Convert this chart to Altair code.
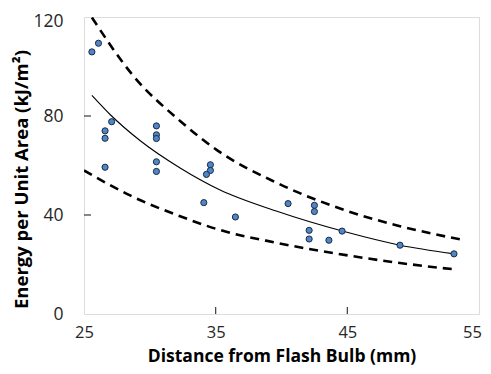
import altair as alt
import pandas as pd

# measured points
dist = [25.6, 26.1, 27.1, 26.6, 26.6, 26.6, 30.5, 30.5, 30.5, 30.5, 30.5,
        34.6, 34.6, 34.3, 34.1, 36.5, 40.5, 42.5, 42.5, 42.1, 42.1, 43.6,
        44.6, 49.0, 53.1]
energy = [105.9, 109.4, 77.7, 74.0, 71.0, 59.3, 76.0, 72.4, 70.9, 61.5, 57.6,
          60.3, 58.0, 56.4, 45.0, 39.2, 44.6, 43.9, 41.4, 33.8, 30.3, 29.8,
          33.5, 27.8, 24.3]

# fitted curve (solid)
fit_x = [25.6, 27.0, 29.25, 32.3, 35.3, 39.6, 44.9, 49.0, 53.0]
fit_y = [88.3, 80.5, 70.1, 59.0, 50.2, 41.6, 33.1, 27.8, 24.4]

# upper bound (dashed)
up_x = [25.6, 28.7, 32.3, 35.1, 39.6, 44.9, 49.0, 53.6]
up_y = [119.8, 96.5, 78.0, 66.2, 53.1, 41.8, 35.5, 30.1]

# lower bound (dashed)
lo_x = [25.0, 28.5, 32.3, 35.1, 39.6, 44.9, 49.0, 53.2]
lo_y = [58.0, 47.9, 39.5, 34.3, 28.8, 23.8, 20.6, 18.0]

x_tick_vals = [35, 45]
y_tick_vals = [40, 80]
x_labels = [25, 35, 45, 55]
y_labels = [0, 40, 80, 120]

W, H = 395, 297
FONT = "Open Sans"

xs = alt.Scale(domain=[25, 55], nice=False, zero=False)
ys = alt.Scale(domain=[0, 120], nice=False)

pts = pd.DataFrame({"x": dist, "y": energy})
fit = pd.DataFrame({"x": fit_x, "y": fit_y})
up = pd.DataFrame({"x": up_x, "y": up_y})
lo = pd.DataFrame({"x": lo_x, "y": lo_y})

xaxis = alt.Axis(values=x_labels, title="Distance from Flash Bulb (mm)",
                 ticks=False, tickSize=0, domain=False, grid=False,
                 labelFontSize=16.5, labelFont=FONT, labelColor="#262626",
                 labelPadding=10, labelBaseline="top", labelFlush=False,
                 labelOffset=alt.condition("datum.value == 55", alt.value(-7), alt.value(0)),
                 titleFont=FONT, titleFontSize=17.5, titleFontWeight="bold",
                 titleColor="#000000", titleY=33, titleBaseline="top")
yaxis = alt.Axis(values=y_labels, title="Energy per Unit Area (kJ/m²)",
                 ticks=False, tickSize=0, domain=False, grid=False,
                 labelFontSize=17.5, labelFont=FONT, labelColor="#262626",
                 labelPadding=21, labelFlush=False,
                 labelOffset=alt.condition("datum.value == 120", alt.value(4), alt.value(0)),
                 titleFont=FONT, titleFontSize=18.5, titleFontWeight="bold",
                 titleColor="#000000", titleX=-63, titleY=162,
                 titleAngle=270, titleAlign="center", titleBaseline="middle")

X = lambda f: alt.X(f, scale=xs, axis=xaxis)
Y = lambda f: alt.Y(f, scale=ys, axis=yaxis)

points = alt.Chart(pts).mark_point(
    filled=True, fill="#4f86c6", stroke="#1a2a44", strokeWidth=1, size=38,
    opacity=1, shape="circle"
).encode(x=X("x:Q"), y=Y("y:Q"))

fit_line = alt.Chart(fit).mark_line(
    color="#000000", strokeWidth=1.1, interpolate="monotone", clip=True
).encode(x=X("x:Q"), y=Y("y:Q"))

up_line = alt.Chart(up).mark_line(
    color="#000000", strokeWidth=2.6, strokeDash=[9, 6], interpolate="monotone", clip=True
).encode(x=X("x:Q"), y=Y("y:Q"))

lo_line = alt.Chart(lo).mark_line(
    color="#000000", strokeWidth=2.6, strokeDash=[9, 6], interpolate="monotone", clip=True
).encode(x=X("x:Q"), y=Y("y:Q"))

xt = alt.Chart(pd.DataFrame({"v": x_tick_vals})).mark_rule(
    color="#3a3a3a", strokeWidth=1.2
).encode(x=X("v:Q"), y=alt.value(H), y2=alt.value(H - 7))

yt = alt.Chart(pd.DataFrame({"v": y_tick_vals})).mark_rule(
    color="#3a3a3a", strokeWidth=1.2
).encode(y=Y("v:Q"), x=alt.value(0), x2=alt.value(7))

chart = alt.layer(up_line, lo_line, fit_line, xt, yt, points).properties(
    width=W, height=H,
    autosize=alt.AutoSizeParams(type="none"),
    padding={"left": 76, "top": 9, "right": 4, "bottom": 56},
).configure_view(
    stroke="#3a3a3a", strokeWidth=1.5
).configure(background="white")

chart.save("out.html", embed_options={"renderer": "svg", "actions": False})
